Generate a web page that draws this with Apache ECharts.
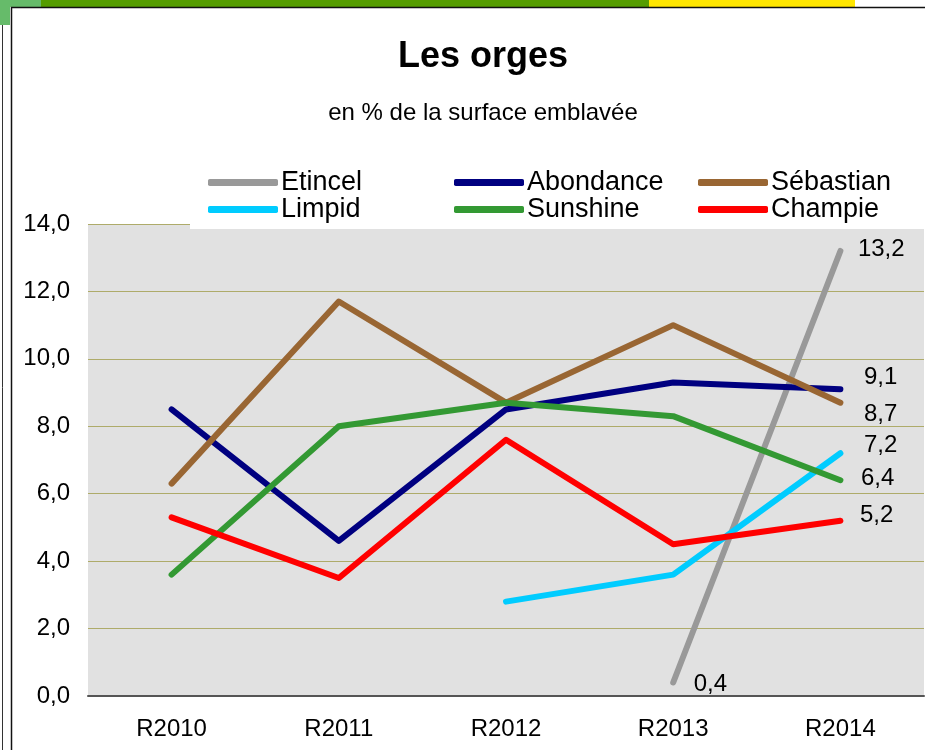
<!DOCTYPE html>
<html>
<head>
<meta charset="utf-8">
<script src="https://cdn.jsdelivr.net/npm/echarts@6/dist/echarts.min.js"></script>
<style>
html,body{margin:0;padding:0;background:#fff;}
#main{width:925px;height:750px;}
</style>
</head>
<body>
<div id="main"></div>
<script>
const categories = ['R2010', 'R2011', 'R2012', 'R2013', 'R2014'];
const etincel   = [null, null, null, 0.4, 13.2];
const abondance = [8.5, 4.6, 8.5, 9.3, 9.1];
const sebastian = [6.3, 11.7, 8.7, 11.0, 8.7];
const limpid    = [null, null, 2.8, 3.6, 7.2];
const sunshine  = [3.6, 8.0, 8.7, 8.3, 6.4];
const champie   = [5.3, 3.5, 7.6, 4.5, 5.2];
const yTicks = [0, 2, 4, 6, 8, 10, 12, 14];

const FONT = '"Liberation Sans", Arial, sans-serif';
const fmt = v => v.toFixed(1).replace('.', ',');

function withLabels(values, labelled) {
  return values.map((v, i) => {
    if (v == null || !(i in labelled)) return v;
    return { value: v, label: Object.assign({ show: true }, labelled[i]) };
  });
}

function mkSeries(name, color, data, labelled) {
  return {
    name: name,
    type: 'line',
    data: withLabels(data, labelled),
    showSymbol: true,
    symbol: 'circle',
    symbolSize: 1,
    connectNulls: false,
    z: 5,
    lineStyle: { color: color, width: 6, cap: 'round', join: 'round' },
    itemStyle: { color: color },
    label: {
      show: false,
      position: 'right',
      color: '#000',
      fontFamily: FONT,
      fontSize: 24,
      formatter: p => fmt(p.value)
    },
    emphasis: { disabled: true }
  };
}

const chart = echarts.init(document.getElementById('main'), null, { renderer: 'canvas' });

const legendBase = {
  orient: 'vertical',
  itemWidth: 70,
  itemHeight: 7,
  itemGap: 0,
  icon: 'roundRect',
  padding: 0,
  z: 6,
  textStyle: { fontFamily: FONT, fontSize: 27, color: '#000', lineHeight: 25, padding: [0, 0, 0, -2] },
  selectedMode: false
};

chart.setOption({
  animation: false,
  backgroundColor: '#fff',
  title: [
    { text: 'Les orges', left: 478, top: 34, textAlign: 'center',
      textStyle: { fontFamily: FONT, fontSize: 36, fontWeight: 'bold', color: '#000' } },
    { text: 'en % de la surface emblavée', left: 478, top: 96, textAlign: 'center',
      textStyle: { fontFamily: FONT, fontSize: 24, fontWeight: 'normal', color: '#000' } }
  ],
  legend: [
    Object.assign({}, legendBase, { left: 208, top: 169, data: ['Etincel', 'Limpid'] }),
    Object.assign({}, legendBase, { left: 454, top: 169, data: ['Abondance', 'Sunshine'] }),
    Object.assign({}, legendBase, { left: 698, top: 169, data: ['Sébastian', 'Champie'] })
  ],
  graphic: [
    { type: 'rect', shape: { x: 0, y: 0, width: 41, height: 7 }, style: { fill: '#66bb6a' }, z: 10 },
    { type: 'rect', shape: { x: 0, y: 0, width: 10, height: 25 }, style: { fill: '#66bb6a' }, z: 10 },
    { type: 'rect', shape: { x: 41, y: 0, width: 608, height: 7 }, style: { fill: '#559d00' }, z: 10 },
    { type: 'rect', shape: { x: 649, y: 0, width: 206, height: 7 }, style: { fill: '#ffe600' }, z: 10 },
    { type: 'line', shape: { x1: 11, y1: 7.5, x2: 925, y2: 7.5 }, style: { stroke: '#111', lineWidth: 1.5 }, z: 10 },
    { type: 'line', shape: { x1: 11.5, y1: 7, x2: 11.5, y2: 750 }, style: { stroke: '#111', lineWidth: 1.5 }, z: 10 },
    { type: 'line', shape: { x1: 2.5, y1: 25, x2: 2.5, y2: 750 }, style: { stroke: '#333', lineWidth: 1 }, z: 10 },
    { type: 'rect', shape: { x: 190, y: 160, width: 735, height: 69 }, style: { fill: '#fff' }, z: 3 }
  ],
  grid: {
    left: 88, right: 1, top: 224, bottom: 54,
    show: true, backgroundColor: '#e1e1e1', borderWidth: 0,
    containLabel: false
  },
  xAxis: {
    type: 'category',
    data: categories,
    boundaryGap: true,
    axisLine: { show: true, lineStyle: { color: '#555', width: 2 } },
    axisTick: { show: false },
    axisLabel: { fontFamily: FONT, fontSize: 24, color: '#000', margin: 21 },
    splitLine: { show: false }
  },
  yAxis: {
    type: 'value',
    min: yTicks[0],
    max: yTicks[yTicks.length - 1],
    interval: 2,
    axisLine: { show: false },
    axisTick: { show: false },
    axisLabel: { fontFamily: FONT, fontSize: 24, color: '#000', margin: 18, formatter: v => fmt(v) },
    splitLine: { show: true, lineStyle: { color: '#aeab6a', width: 1 } }
  },
  series: [
    mkSeries('Etincel', '#999999', etincel, {
      3: { position: 'right', offset: [15, 2] },
      4: { position: 'right', offset: [12, -2] }
    }),
    mkSeries('Abondance', '#000080', abondance, { 4: { offset: [18, -12] } }),
    mkSeries('Sébastian', '#996633', sebastian, { 4: { offset: [18, 12] } }),
    mkSeries('Limpid', '#00ccff', limpid, { 4: { offset: [18, -8] } }),
    mkSeries('Sunshine', '#339933', sunshine, { 4: { offset: [15, -2] } }),
    mkSeries('Champie', '#ff0000', champie, { 4: { offset: [14, -5] } })
  ]
});
</script>
</body>
</html>
